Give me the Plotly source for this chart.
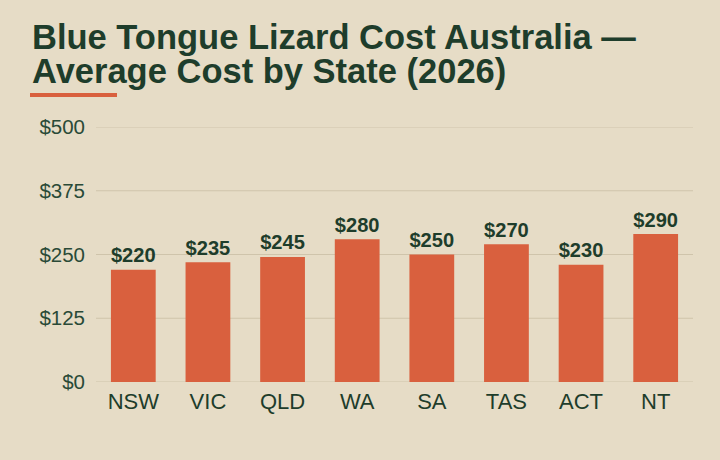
import plotly.graph_objects as go

states = ["NSW", "VIC", "QLD", "WA", "SA", "TAS", "ACT", "NT"]
costs = [220, 235, 245, 280, 250, 270, 230, 290]
tick_vals = [0, 125, 250, 375, 500]
tick_text = ["$0", "$125", "$250", "$375", "$500"]
title_lines = ["Blue Tongue Lizard Cost Australia —", "Average Cost by State (2026)"]

BG = "#e6dcc6"
DARK = "#1e3d2b"
BAR = "#d9603e"
GRID = "#cfc4ab"
FONT = "Liberation Sans, Arial, sans-serif"

fig = go.Figure(go.Bar(
    x=states, y=costs,
    marker=dict(color=BAR, line=dict(width=0)),
    width=0.6,
    text=[f"${v}" for v in costs],
    textposition="outside",
    textfont=dict(family=FONT, size=22, color=DARK, weight="bold"),
    cliponaxis=False,
    hoverinfo="skip",
))

shapes = [dict(type="rect", xref="paper", yref="paper",
               x0=-66/597, x1=21/597, y0=1+(127-97)/255, y1=1+(127-93)/255,
               fillcolor=BAR, line=dict(width=0))]
for v in tick_vals:
    shapes.append(dict(type="line", xref="paper", yref="y", x0=0, x1=1, y0=v, y1=v,
                       line=dict(color=GRID, width=1), layer="below"))

fig.update_layout(
    width=720, height=460,
    paper_bgcolor=BG, plot_bgcolor=BG,
    margin=dict(l=96, r=27, t=127, b=78),
    showlegend=False,
    bargap=0.4,
    xaxis=dict(showgrid=False, showline=False, ticks="", zeroline=False,
               ticklabelstandoff=4,
               tickfont=dict(family=FONT, size=22, color=DARK)),
    yaxis=dict(range=[0, 500], tickvals=tick_vals, ticktext=tick_text,
               showgrid=False, zeroline=False,
               showline=False, ticks="", ticklen=0, ticklabelstandoff=10,
               tickfont=dict(family=FONT, size=20.5, color="#2a4a37")),
    shapes=shapes,
)

title_html = "<br>".join(f'<span style="font-size:34.5px"><b>{t}</b></span>' for t in title_lines)
fig.add_annotation(
    text=title_html, xref="paper", yref="paper",
    x=-66/597, y=1 + (127 - 16) / 255,
    xanchor="left", yanchor="top", align="left", showarrow=False,
    font=dict(family=FONT, size=34 / 1.3, color=DARK),
)

fig.write_html("out.html")
